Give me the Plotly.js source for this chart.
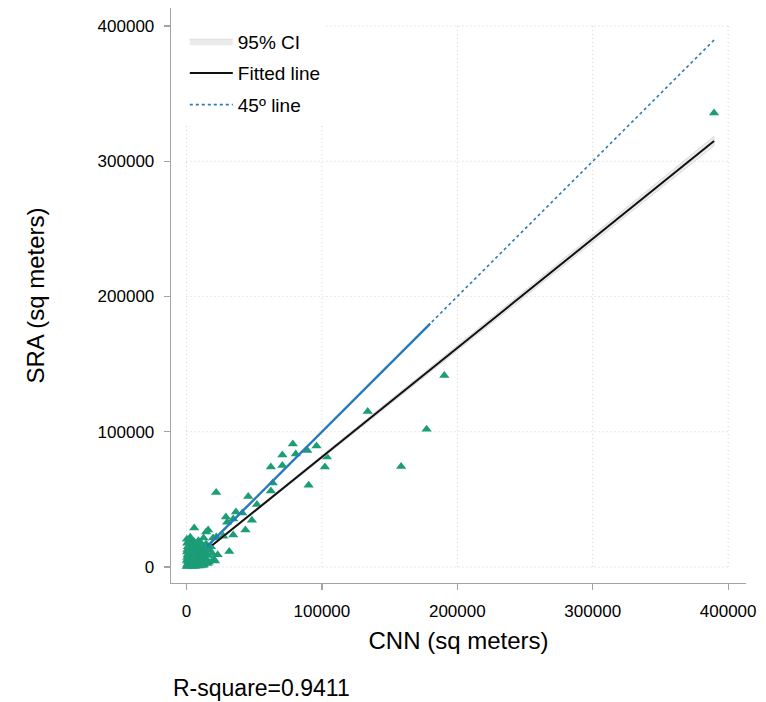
<!DOCTYPE html>
<html><head><meta charset="utf-8">
<script src="https://cdn.plot.ly/plotly-3.0.1.min.js"></script>
<style>html,body{margin:0;padding:0;background:#fff}#chart{width:766px;height:702px}</style>
</head><body><div id="chart"></div>
<script>
// Scatter observations (square meters)
const cnn = [389600,190400,177300,158500,133800,103700,102200,96000,89200,78500,80700,70800,70800,62300,90200,63700,62300,
  21900,45600,52000,41200,36500,29100,34500,30000,48300,43500,34500,27200,22000,14500,19600,16000,5700,31600,12600,
  200,500,800,1200,1500,2000,2500,3000,300,600,900,400,700,1000,500,1800,2200,2600,3200,3600,4000,4500,5000,5200,
  6000,6400,7000,7500,8000,8300,9000,9500,10000,10500,11000,11500,12000,12500,13000,14000,14500,15000,16000,16500,
  17000,18000,19000,20000,3500,4200,5800,6800,8800,10800,2800,4800,6200,9800,12800,15500,21000,23000,7800,11800,
  13600,1500,300,
  1000,2000,3000,4000,5000,6000,7000,8000,9000,10000,11000,12000,2500,4500,6500,8500,10500,1500,3500,5500];
const sra = [335700,141600,101800,74300,114900,81300,73900,89500,86100,90900,83500,82800,75000,73900,60500,62100,56200,
  55000,52200,46200,40000,40700,37000,35500,33000,34500,27400,23700,22800,22200,25900,21400,27400,28800,11500,21400,
  300,1500,600,2500,1000,3500,1800,500,5000,7000,9000,11000,13000,15000,17500,12000,8000,4500,6500,10000,3000,7500,1200,13500,
  5500,9500,3000,11500,7000,16000,5000,10500,2000,13000,7500,9800,4000,14000,11000,6500,17000,12500,8500,3500,
  12500,15000,10000,6000,20000,16500,18500,14500,19500,17500,22000,300,500,800,1500,2500,4500,9000,700,1200,
  3000,18500,20500,
  4000,6000,9500,2000,4500,11000,8500,2500,12500,6500,4000,8000,1000,2000,2500,5000,5500,8500,12000,7000];

// Fitted line and 95% CI
const fitX = [19000, 389600];
const fitY = [16025, 314950];
const ciX  = [19000, 100000, 200000, 300000, 389600];
const ciLo = [15425, 80460, 160220, 239980, 311450];
const ciHi = [16625, 82260, 163820, 245380, 318450];

// 45 degree line
const diagX = [15000, 389600];
const diagY = [15000, 389600];
const diagSolidX = [15000, 180000];
const diagSolidY = [15000, 180000];

// Ticks
const tickVals = [0, 100000, 200000, 300000, 400000];
const tickText = ['0', '100000', '200000', '300000', '400000'];

const FONT = 'Liberation Sans, Arial, Helvetica, sans-serif';
const GREEN = '#1b9d77';
const BLUE = '#2a7ab9';

const traces = [
  {x: cnn, y: sra, type: 'scatter', mode: 'markers', showlegend: false, hoverinfo: 'skip',
   marker: {symbol: 'triangle-up', size: 9, color: GREEN}},
  {x: ciX.concat(ciX.slice().reverse()), y: ciHi.concat(ciLo.slice().reverse()),
   type: 'scatter', mode: 'lines', fill: 'toself', name: '95% CI', legendgroup: 'a',
   fillcolor: 'rgba(205,205,205,0.4)', line: {color: 'rgba(210,210,210,0.9)', width: 0.8}},
  {x: fitX, y: fitY, type: 'scatter', mode: 'lines', name: 'Fitted line', legendgroup: 'b',
   line: {color: '#111111', width: 2}},
  {x: diagX, y: diagY, type: 'scatter', mode: 'lines', name: '45º line', legendgroup: 'c',
   line: {color: BLUE, width: 1.6, dash: '3px,3px'}},
  {x: diagSolidX, y: diagSolidY, type: 'scatter', mode: 'lines', showlegend: false, legendgroup: 'c',
   line: {color: BLUE, width: 2.4}}
];

const shapes = [];
tickVals.forEach(v => {
  shapes.push({type: 'line', xref: 'x', yref: 'y', x0: v, x1: v, y0: tickVals[0], y1: tickVals[tickVals.length-1],
    line: {color: '#d2d2d2', width: 1, dash: '1px,3px'}, layer: 'below'});
  shapes.push({type: 'line', xref: 'x', yref: 'y', y0: v, y1: v, x0: tickVals[0], x1: tickVals[tickVals.length-1],
    line: {color: '#d2d2d2', width: 1, dash: '1px,3px'}, layer: 'below'});
});

const axisCommon = {
  tickmode: 'array', tickvals: tickVals, ticktext: tickText,
  showgrid: false, zeroline: false, showline: true, linecolor: '#a3a3a3', linewidth: 1.3,
  ticks: 'outside', ticklen: 6, tickcolor: '#a3a3a3', tickwidth: 1.2,
  tickfont: {family: FONT, size: 17, color: '#000'}
};

const layout = {
  width: 766, height: 702,
  margin: {l: 171, r: 20, t: 8, b: 119},
  paper_bgcolor: '#fff', plot_bgcolor: '#fff',
  font: {family: FONT, color: '#000'},
  xaxis: Object.assign({}, axisCommon, {
    range: [-11450, 413200], ticklabelstandoff: 6,
    title: {text: 'CNN (sq meters)', font: {family: FONT, size: 24, color: '#000'}, standoff: 12}
  }),
  yaxis: Object.assign({}, axisCommon, {
    range: [-11830, 413300], ticklabelstandoff: 6,
    title: {text: 'SRA (sq meters)', font: {family: FONT, size: 24, color: '#000'}, standoff: 46}
  }),
  showlegend: true,
  legend: {x: 0.024, xanchor: 'left', y: 0.975, yanchor: 'top', bgcolor: '#fff', borderwidth: 0,
    font: {family: FONT, size: 19, color: '#000'}, traceorder: 'grouped', tracegroupgap: 4, itemwidth: 43},
  shapes: shapes,
  annotations: [{text: 'R-square=0.9411', xref: 'paper', yref: 'paper', x: 0, xanchor: 'left',
    y: -0.183, yanchor: 'middle', showarrow: false, font: {family: FONT, size: 23, color: '#000'}}]
};

Plotly.newPlot('chart', traces, layout, {displayModeBar: false, staticPlot: true});
</script>
</body></html>
